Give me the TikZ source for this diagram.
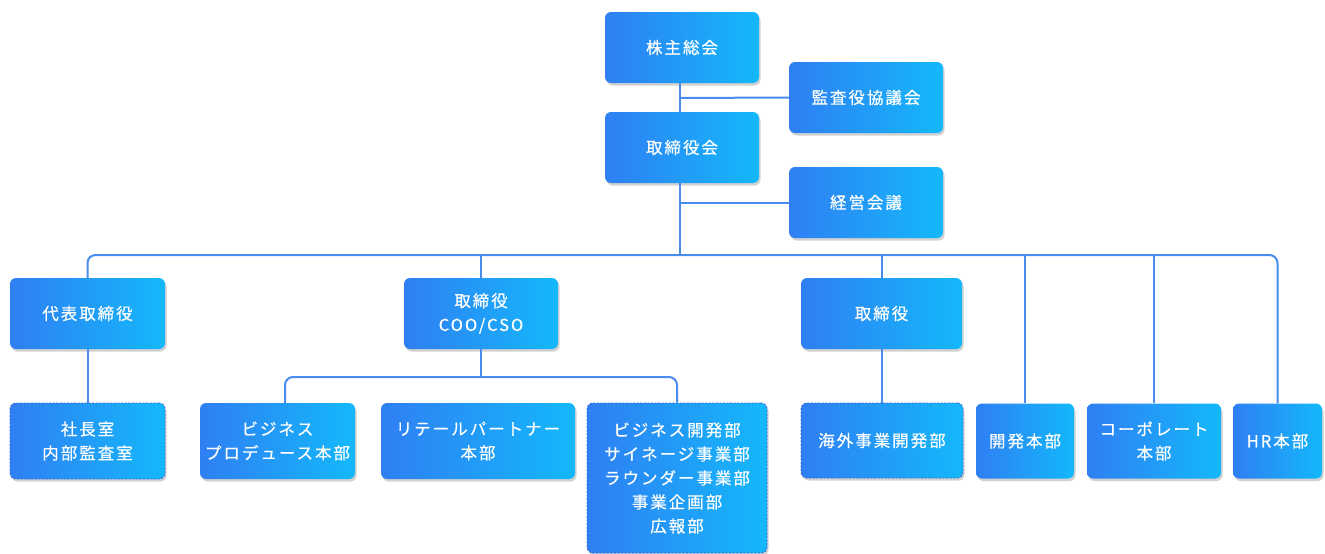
\documentclass[tikz,border=0pt]{standalone}
\usepackage{fontspec}
\setmainfont{Noto Sans CJK JP}[LetterSpace=12,FakeBold=0.5]
\usetikzlibrary{shadows}
\definecolor{bl}{HTML}{2F7FF3}
\definecolor{cy}{HTML}{14B8FB}
\definecolor{ln}{HTML}{4A8CEE}
\definecolor{dsh}{HTML}{3A6BD6}
\tikzset{
  box/.style={rounded corners=6pt, left color=bl, right color=cy, draw=none,
    text=white, align=center, font=\fontsize{16.5}{24}\selectfont,
    inner sep=0pt, minimum height=71pt,
    drop shadow={shadow xshift=1.5pt, shadow yshift=-2.5pt, opacity=0.18, fill=black}},
  dbox/.style={box, draw=dsh, line width=0.9pt, dash pattern=on 2pt off 1.6pt},
  conn/.style={draw=ln, line width=2pt, rounded corners=8pt}
}
\begin{document}
\begin{tikzpicture}[x=1pt,y=-1pt]
\useasboundingbox (0,0) rectangle (1325,554);
% top
\node[box, minimum width=154pt] (kabu) at (682,47.5) {株主総会};
\node[box, minimum width=154pt] (kansa) at (866,97.5) {監査役協議会};
\node[box, minimum width=154pt] (tori1) at (682,147.5) {取締役会};
\node[box, minimum width=154pt] (keiei) at (866,202.5) {経営会議};
% row 2
\node[box, minimum width=155pt] (daihyo) at (87.5,313.5) {代表取締役};
\node[box, minimum width=154pt] (coo) at (481,313.5) {取締役\\COO/CSO};
\node[box, minimum width=161pt] (tori2) at (881.5,313.5) {取締役};
% row 3
\node[dbox, minimum width=155pt, minimum height=76pt] (shacho) at (87.5,441) {社長室\\内部監査室};
\node[box, minimum width=155pt, minimum height=76pt] (bizpro) at (277.5,441) {ビジネス\\プロデュース本部};
\node[box, minimum width=194pt, minimum height=76pt] (retail) at (478,441) {リテールパートナー\\本部};
\node[dbox, minimum width=180pt, minimum height=150pt] (bizdev) at (677,478) {ビジネス開発部\\サイネージ事業部\\ラウンダー事業部\\事業企画部\\広報部};
\node[dbox, minimum width=162pt, minimum height=75pt] (kaigai) at (882,440.5) {海外事業開発部};
\node[box, minimum width=98pt, minimum height=75pt] (kaihatsu) at (1025,441) {開発本部};
\node[box, minimum width=134pt, minimum height=75pt] (corp) at (1154,441) {コーポレート\\本部};
\node[box, minimum width=89pt, minimum height=75pt] (hr) at (1277.5,441) {HR本部};
% connectors
\coordinate (bus) at (680,255);
\draw[conn] ([xshift=-2pt]kabu.south) -- ([xshift=-2pt]tori1.north);
\draw[conn] ([xshift=-2pt]tori1.south) -- (bus);
\draw[conn] (680,98) -- (kansa.west);
\draw[conn] (680,202.5) -- (keiei.west);
\draw[conn] (daihyo.north) |- (bus) -| (hr.north);
\draw[conn] (coo.north) -- (coo.north |- bus);
\draw[conn] ([xshift=0.5pt]tori2.north) -- ([xshift=0.5pt]tori2.north |- bus);
\draw[conn] (kaihatsu.north) -- (kaihatsu.north |- bus);
\draw[conn] (corp.north) -- (corp.north |- bus);
\draw[conn] (daihyo.south) -- (shacho.north);
\draw[conn] ([xshift=0.5pt]tori2.south) -- (kaigai.north);
\coordinate (cbus) at (481,377);
\draw[conn] ([xshift=7.5pt]bizpro.north) |- (cbus) -| (bizdev.north);
\draw[conn] (coo.south) -- (cbus);
\end{tikzpicture}
\end{document}
